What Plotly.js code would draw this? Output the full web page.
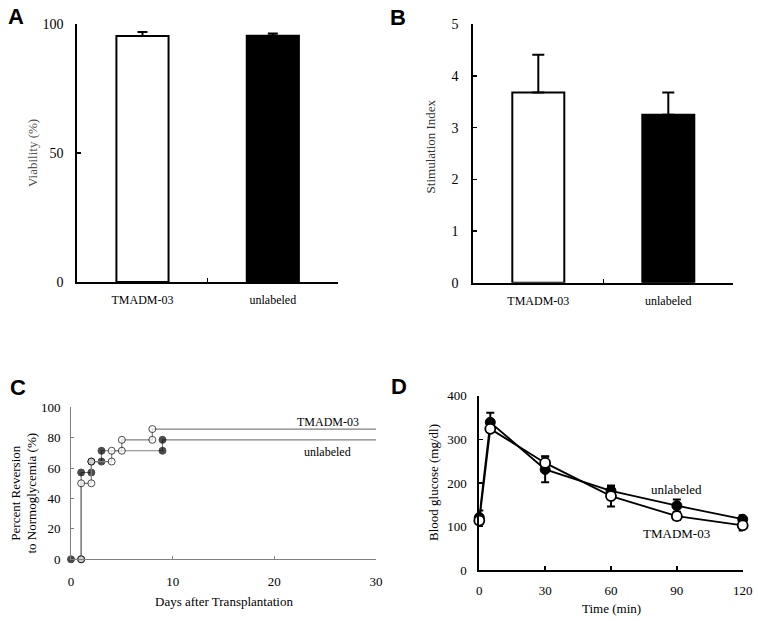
<!DOCTYPE html>
<html>
<head>
<meta charset="utf-8">
<script src="https://cdn.plot.ly/plotly-3.0.1.min.js"></script>
<style>html,body{margin:0;padding:0;background:#fff;}#chart{width:758px;height:621px;}</style>
</head>
<body>
<div id="chart"></div>
<script>
// ---- Data ----
const categories = ['TMADM-03', 'unlabeled'];
const barFill = ['#ffffff', '#000000'];
// Panel A
const viability = [95.5, 95.6];
const viabilityErr = [1.5, 0.8];
// Panel B
const stimIndex = [3.68, 3.25];
const stimErr = [0.73, 0.43];
// Panel C (step curves)
const daysUnlabeled = [0, 1, 1, 2, 2, 3, 3, 9, 9, 30];
const pctUnlabeled = [0, 0, 57.1, 57.1, 64.3, 64.3, 71.4, 71.4, 78.6, 78.6];
const daysTMADM = [1, 1, 2, 2, 4, 4, 5, 5, 8, 8, 30];
const pctTMADM = [0, 50, 50, 64.3, 64.3, 71.4, 71.4, 78.6, 78.6, 85.7, 85.7];
// Panel D
const timeMin = [0, 5, 30, 60, 90, 120];
const glucoseUnlabeled = [121, 339, 231, 182, 148, 117];
const errUnlabeled = [16, 22, 29, 11, 14, 9];
const glucoseTMADM = [114, 324, 246, 170, 124, 103];
const errTMADM = [8, 6, 15, 24, 9, 12];

// ---- helpers ----
const W = 758, H = 621;
const px = x => x / W;
const py = y => 1 - y / H;
const serif = 'Liberation Serif';
const sans = 'Liberation Sans';
const stepMarkerSizes = arr => arr.map((_, i) => i === arr.length - 1 ? 0 : 7);

const traces = [
  // A
  {type: 'bar', x: categories, y: viability, xaxis: 'x', yaxis: 'y', width: 0.4,
   marker: {color: barFill, line: {color: '#000', width: 2}},
   error_y: {type: 'data', array: viabilityErr, symmetric: false, arrayminus: [0, 0], color: '#000', thickness: 2, width: 5},
   showlegend: false, hoverinfo: 'skip'},
  // B
  {type: 'bar', x: categories, y: stimIndex, xaxis: 'x2', yaxis: 'y2', width: 0.4,
   marker: {color: barFill, line: {color: '#000', width: 2}},
   error_y: {type: 'data', array: stimErr, symmetric: false, arrayminus: [0, 0], color: '#000', thickness: 2, width: 6},
   showlegend: false, hoverinfo: 'skip'},
  // C unlabeled (filled)
  {type: 'scatter', mode: 'lines+markers', x: daysUnlabeled, y: pctUnlabeled, xaxis: 'x3', yaxis: 'y3',
   line: {color: '#808080', width: 1.2},
   marker: {symbol: 'circle', size: stepMarkerSizes(daysUnlabeled), color: '#000', line: {color: '#000', width: 1}},
   cliponaxis: false, showlegend: false, hoverinfo: 'skip'},
  // C TMADM-03 (open)
  {type: 'scatter', mode: 'lines+markers', x: daysTMADM, y: pctTMADM, xaxis: 'x3', yaxis: 'y3',
   line: {color: '#808080', width: 1.2},
   marker: {symbol: 'circle', size: stepMarkerSizes(daysTMADM), color: '#fff', line: {color: '#000', width: 1}},
   cliponaxis: false, showlegend: false, hoverinfo: 'skip'},
  // D unlabeled (filled)
  {type: 'scatter', mode: 'lines+markers', x: timeMin, y: glucoseUnlabeled, xaxis: 'x4', yaxis: 'y4',
   line: {color: '#000', width: 1.8},
   marker: {symbol: 'circle', size: 10, color: '#000', line: {color: '#000', width: 1}},
   error_y: {type: 'data', array: errUnlabeled, color: '#000', thickness: 2, width: 4},
   cliponaxis: false, showlegend: false, hoverinfo: 'skip'},
  // D TMADM-03 (open)
  {type: 'scatter', mode: 'lines+markers', x: timeMin, y: glucoseTMADM, xaxis: 'x4', yaxis: 'y4',
   line: {color: '#000', width: 1.8},
   marker: {symbol: 'circle', size: 10, color: '#fff', line: {color: '#000', width: 1.8}},
   error_y: {type: 'data', array: errTMADM, color: '#000', thickness: 2, width: 4},
   cliponaxis: false, showlegend: false, hoverinfo: 'skip'}
];

const baseAxis = {showgrid: false, zeroline: false, showline: true, fixedrange: true,
  ticks: 'inside', tickfont: {family: serif, size: 13, color: '#000'}};

function note(text, x, y, size, opts) {
  return Object.assign({text: text, x: px(x), y: py(y), xref: 'paper', yref: 'paper', showarrow: false,
    xanchor: 'center', yanchor: 'middle', font: {family: serif, size: size, color: '#000'}}, opts || {});
}

const layout = {
  width: W, height: H,
  margin: {l: 0, r: 0, t: 0, b: 0},
  paper_bgcolor: '#fff', plot_bgcolor: 'rgba(0,0,0,0)',
  showlegend: false,
  // A
  xaxis: Object.assign({}, baseAxis, {domain: [px(77.3), px(338)], anchor: 'y', type: 'category',
    range: [-0.5, 1.5], tickson: 'boundaries', linecolor: '#000', linewidth: 2, tickcolor: '#000', ticklen: 4, tickwidth: 1.5,
    tickfont: {family: serif, size: 12, color: '#000'}, ticklabelstandoff: 6}),
  yaxis: Object.assign({}, baseAxis, {domain: [py(282), py(24.3)], anchor: 'x', range: [0, 100],
    tickvals: [0, 50, 100], linecolor: '#000', linewidth: 2, tickcolor: '#000', ticklen: 4, tickwidth: 1.5,
    tickfont: {family: serif, size: 14, color: '#000'}, ticklabelstandoff: 9}),
  // B
  xaxis2: Object.assign({}, baseAxis, {domain: [px(473.3), px(733.3)], anchor: 'y2', type: 'category',
    range: [-0.5, 1.5], tickson: 'boundaries', linecolor: '#000', linewidth: 2, tickcolor: '#000', ticklen: 4, tickwidth: 1.5,
    tickfont: {family: serif, size: 12, color: '#000'}, ticklabelstandoff: 6}),
  yaxis2: Object.assign({}, baseAxis, {domain: [py(282.7), py(24.3)], anchor: 'x2', range: [0, 5],
    dtick: 1, linecolor: '#000', linewidth: 2, tickcolor: '#000', ticklen: 4, tickwidth: 1.5,
    tickfont: {family: serif, size: 14, color: '#000'}, ticklabelstandoff: 10}),
  // C
  xaxis3: Object.assign({}, baseAxis, {domain: [px(71), px(376)], anchor: 'y3', range: [0, 30],
    dtick: 10, linecolor: '#808080', linewidth: 1, tickcolor: '#808080', ticklen: 3, tickwidth: 1,
    ticklabelstandoff: 10}),
  yaxis3: Object.assign({}, baseAxis, {domain: [py(559.3), py(407.3)], anchor: 'x3', range: [0, 100],
    dtick: 20, linecolor: '#808080', linewidth: 1, tickcolor: '#808080', ticklen: 3, tickwidth: 1,
    ticklabelstandoff: 7}),
  // D
  xaxis4: Object.assign({}, baseAxis, {domain: [px(479.3), px(742.7)], anchor: 'y4', range: [0, 120],
    dtick: 30, linecolor: '#000', linewidth: 2, tickcolor: '#000', ticklen: 4, tickwidth: 1.5,
    ticklabelstandoff: 7}),
  yaxis4: Object.assign({}, baseAxis, {domain: [py(570.3), py(395.7)], anchor: 'x4', range: [0, 400],
    dtick: 100, linecolor: '#000', linewidth: 2, tickcolor: '#000', ticklen: 4, tickwidth: 1.5,
    ticklabelstandoff: 8}),
  annotations: [
    // panel letters
    note('<b>A</b>', 16, 16, 22, {font: {family: sans, size: 22, color: '#000'}}),
    note('<b>B</b>', 398, 17, 22, {font: {family: sans, size: 22, color: '#000'}}),
    note('<b>C</b>', 18, 387, 22, {font: {family: sans, size: 22, color: '#000'}}),
    note('<b>D</b>', 399, 386, 22, {font: {family: sans, size: 22, color: '#000'}}),
    // axis titles
    note('Viability (%)', 32, 153, 13, {textangle: -90, font: {family: serif, size: 13, color: '#555'}}),
    note('Stimulation Index', 430.7, 146.7, 13, {textangle: -90, font: {family: serif, size: 13, color: '#333'}}),
    note('Percent Reversion<br>to Normoglycemia (%)', 23.5, 493, 13, {textangle: -90}),
    note('Days after Transplantation', 223.5, 601, 13),
    note('Blood glucose (mg/dl)', 433, 483, 13, {textangle: -90}),
    note('Time (min)', 611, 608, 13),
    // series labels
    note('TMADM-03', 327.7, 421.7, 12),
    note('unlabeled', 327.7, 452.3, 12),
    note('unlabeled', 676, 489.3, 13),
    note('TMADM-03', 676.7, 533.3, 13)
  ]
};

Plotly.newPlot('chart', traces, layout, {staticPlot: true, displayModeBar: false});
</script>
</body>
</html>
